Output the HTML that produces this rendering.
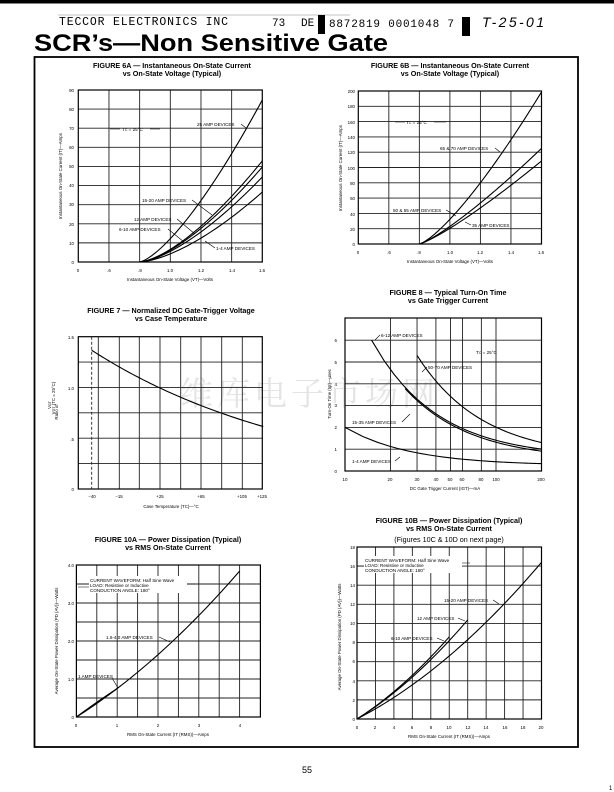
<!DOCTYPE html>
<html><head><meta charset="utf-8"><style>
html,body{margin:0;padding:0;background:#fff;}
svg{display:block;font-family:"Liberation Sans",Arial,sans-serif;}
.t{font-size:7.2px;font-weight:bold;text-anchor:middle;}
.s{font-size:4.6px;}
.k{font-size:4.4px;text-anchor:end;}
.m{font-size:4.4px;text-anchor:middle;}
.g{stroke:#222;stroke-width:0.9;fill:none;}
.b{stroke:#000;stroke-width:1.2;fill:none;}
.c{stroke:#000;stroke-width:1.1;fill:none;}
.l{stroke:#000;stroke-width:0.6;fill:none;}
</style></head><body>
<svg id="sv" width="614" height="792" viewBox="0 0 614 792" xmlns="http://www.w3.org/2000/svg">
<rect x="0" y="0" width="614" height="3.5" fill="#000"/>
<line x1="58" y1="15" x2="350" y2="15" stroke="#888" stroke-width="0.6"/>
<text x="59" y="25" font-family="Liberation Mono,monospace" font-size="11.5" textLength="169">TECCOR ELECTRONICS INC</text>
<text x="272" y="26" font-family="Liberation Mono,monospace" font-size="11">73</text>
<text x="301" y="26" font-family="Liberation Mono,monospace" font-size="11">DE</text>
<rect x="318" y="15" width="7" height="19" fill="#000"/>
<text x="329" y="27" font-family="Liberation Mono,monospace" font-size="11" textLength="125">8872819 0001048 7</text>
<rect x="462" y="17" width="8" height="19" fill="#000"/>
<text x="482" y="27" font-family="Liberation Sans,sans-serif" font-size="14" font-style="italic" textLength="62">T-25-01</text>
<text x="34" y="51" font-size="24" font-weight="bold" textLength="354" lengthAdjust="spacingAndGlyphs">SCR’s—Non Sensitive Gate</text>
<rect x="34.5" y="57" width="543.5" height="690" fill="none" stroke="#000" stroke-width="1.8"/>

<text x="180" y="405" font-family="Noto Serif CJK SC,serif" font-size="33" fill="#e4e4e4" textLength="255">维库电子市场网</text>

<!-- FIG 6A -->
<text class="t" x="172" y="68">FIGURE 6A — Instantaneous On-State Current</text>
<text class="t" x="172" y="76">vs On-State Voltage (Typical)</text>
<g id="g6a"></g>
<text class="k" x="74" y="92">90</text><text class="k" x="74" y="111">80</text><text class="k" x="74" y="130">70</text><text class="k" x="74" y="149">60</text><text class="k" x="74" y="168">50</text><text class="k" x="74" y="187">40</text><text class="k" x="74" y="206">30</text><text class="k" x="74" y="226">20</text><text class="k" x="74" y="245">10</text><text class="k" x="74" y="264">0</text>
<text class="m" x="78" y="272">0</text><text class="m" x="109" y="272">.6</text><text class="m" x="140" y="272">.8</text><text class="m" x="170" y="272">1.0</text><text class="m" x="201" y="272">1.2</text><text class="m" x="232" y="272">1.4</text><text class="m" x="262" y="272">1.6</text>
<text class="m" x="170" y="281">Instantaneous On-State Voltage (VT)—Volts</text>
<text class="m" transform="translate(62,176) rotate(-90)">Instantaneous On-State Current (IT)—Amps</text>
<text class="s" x="122" y="131">T<tspan font-size="3.5">C</tspan> = 25°C</text>
<text class="s" x="197" y="126">25 AMP DEVICES</text>
<text class="s" x="142" y="202">15-20 AMP DEVICES</text>
<text class="s" x="134" y="221">12 AMP DEVICES</text>
<text class="s" x="119" y="231">6-10 AMP DEVICES</text>
<text class="s" x="216" y="250">1-4 AMP DEVICES</text>
<path class="l" d="M110,129H120 M150,129H160 M241,124L246,128 M192,200L212,215 M177,219L195,234 M168,229L184,242 M215,248L205,241"/>

<!-- FIG 6B -->
<text class="t" x="450" y="68">FIGURE 6B — Instantaneous On-State Current</text>
<text class="t" x="450" y="76">vs On-State Voltage (Typical)</text>
<g id="g6b"></g>
<text class="k" x="355" y="93">200</text><text class="k" x="355" y="108">180</text><text class="k" x="355" y="124">160</text><text class="k" x="355" y="139">140</text><text class="k" x="355" y="154">120</text><text class="k" x="355" y="170">100</text><text class="k" x="355" y="185">80</text><text class="k" x="355" y="200">60</text><text class="k" x="355" y="216">40</text><text class="k" x="355" y="231">20</text><text class="k" x="355" y="246">0</text>
<text class="m" x="358" y="254">0</text><text class="m" x="389" y="254">.6</text><text class="m" x="419" y="254">.8</text><text class="m" x="450" y="254">1.0</text><text class="m" x="480" y="254">1.2</text><text class="m" x="511" y="254">1.4</text><text class="m" x="541" y="254">1.6</text>
<text class="m" x="450" y="263">Instantaneous On-State Voltage (VT)—Volts</text>
<text class="m" transform="translate(342,168) rotate(-90)">Instantaneous On-State Current (IT)—Amps</text>
<text class="s" x="406" y="124">T<tspan font-size="3.5">C</tspan> = 25°C</text>
<text class="s" x="440" y="150">65 &amp; 70 AMP DEVICES</text>
<text class="s" x="393" y="212">50 &amp; 55 AMP DEVICES</text>
<text class="s" x="472" y="227">35 AMP DEVICES</text>
<path class="l" d="M395,122H405 M434,122H446 M495,148L500,152 M446,210L456,216 M471,225L465,222"/>

<!-- FIG 7 -->
<text class="t" x="171" y="313">FIGURE 7 — Normalized DC Gate-Trigger Voltage</text>
<text class="t" x="171" y="321">vs Case Temperature</text>
<g id="g7"></g>
<text class="k" x="74" y="339">1.5</text><text class="k" x="74" y="390">1.0</text><text class="k" x="74" y="441">.5</text><text class="k" x="74" y="491">0</text>
<text class="m" x="92" y="498">−40</text><text class="m" x="119" y="498">−15</text><text class="m" x="160" y="498">+25</text><text class="m" x="201" y="498">+65</text><text class="m" x="242" y="498">+105</text><text class="m" x="262" y="498">+125</text>
<text class="m" x="171" y="508">Case Temperature (TC)—°C</text>
<text class="m" transform="translate(58,412) rotate(-90)">Ratio of</text>
<text class="m" transform="translate(51,405) rotate(-90)">V<tspan font-size="3.5">GT</tspan></text>
<text class="m" transform="translate(55,398) rotate(-90)">V<tspan font-size="3.5">GT</tspan> (TC = 25°C)</text>

<!-- FIG 8 -->
<text class="t" x="448" y="295">FIGURE 8 — Typical Turn-On Time</text>
<text class="t" x="448" y="303">vs Gate Trigger Current</text>
<g id="g8"></g>
<text class="k" x="337" y="342">6</text><text class="k" x="337" y="364">5</text><text class="k" x="337" y="386">4</text><text class="k" x="337" y="407">3</text><text class="k" x="337" y="429">2</text><text class="k" x="337" y="451">1</text><text class="k" x="337" y="473">0</text>
<text class="m" x="345" y="481">10</text><text class="m" x="390" y="481">20</text><text class="m" x="417" y="481">30</text><text class="m" x="436" y="481">40</text><text class="m" x="450" y="481">50</text><text class="m" x="462" y="481">60</text><text class="m" x="481" y="481">80</text><text class="m" x="496" y="481">100</text><text class="m" x="541" y="481">200</text>
<text class="m" x="445" y="490">DC Gate Trigger Current (IGT)—mA</text>
<text class="m" transform="translate(331,394) rotate(-90)">Turn-On Time (tgt)—μsec</text>
<text class="s" x="381" y="337">6-12 AMP DEVICES</text>
<text class="s" x="428" y="369">50-70 AMP DEVICES</text>
<text class="s" x="476" y="354">T<tspan font-size="3.5">C</tspan> = 25°C</text>
<text class="s" x="352" y="424">15-35 AMP DEVICES</text>
<text class="s" x="352" y="463">1-4 AMP DEVICES</text>
<path class="l" d="M380,335L375,340 M427,367L422,372 M402,422L410,414 M395,461L400,457"/>

<!-- FIG 10A -->
<text class="t" x="168" y="542">FIGURE 10A — Power Dissipation (Typical)</text>
<text class="t" x="168" y="550">vs RMS On-State Current</text>
<g id="g10a"></g>
<text class="k" x="74" y="567">4.0</text><text class="k" x="74" y="605">3.0</text><text class="k" x="74" y="643">2.0</text><text class="k" x="74" y="681">1.0</text><text class="k" x="74" y="719">0</text>
<text class="m" x="76" y="727">0</text><text class="m" x="117" y="727">1</text><text class="m" x="158" y="727">2</text><text class="m" x="199" y="727">3</text><text class="m" x="240" y="727">4</text>
<text class="m" x="168" y="736">RMS On-State Current (IT (RMS))—Amps</text>
<text class="m" transform="translate(58,641) rotate(-90)">Average On-State Power Dissipation (PD (AV))—Watts</text>
<rect x="89" y="576" width="98" height="17" fill="#fff"/>
<text class="s" x="90" y="582">CURRENT WAVEFORM: Half Sine Wave</text>
<text class="s" x="90" y="587">LOAD: Resistive or Inductive</text>
<text class="s" x="90" y="592">CONDUCTION ANGLE: 180°</text>
<path class="l" d="M78,587H89 M187,584H195"/>
<text class="s" x="106" y="639">1.6-4.0 AMP DEVICES</text>
<text class="s" x="78" y="678">1 AMP DEVICES</text>
<path class="l" d="M159,637L170,642 M112,678L118,688"/>

<!-- FIG 10B -->
<text class="t" x="449" y="523">FIGURE 10B — Power Dissipation (Typical)</text>
<text class="t" x="449" y="531">vs RMS On-State Current</text>
<text x="449" y="542" font-size="7.2" text-anchor="middle">(Figures 10C &amp; 10D on next page)</text>
<g id="g10b"></g>
<text class="k" x="355" y="549">18</text><text class="k" x="355" y="568">16</text><text class="k" x="355" y="587">14</text><text class="k" x="355" y="606">12</text><text class="k" x="355" y="625">10</text><text class="k" x="355" y="644">8</text><text class="k" x="355" y="663">6</text><text class="k" x="355" y="683">4</text><text class="k" x="355" y="702">2</text><text class="k" x="355" y="721">0</text>
<text class="m" x="357" y="729">0</text><text class="m" x="375" y="729">2</text><text class="m" x="394" y="729">4</text><text class="m" x="412" y="729">6</text><text class="m" x="431" y="729">8</text><text class="m" x="449" y="729">10</text><text class="m" x="468" y="729">12</text><text class="m" x="486" y="729">14</text><text class="m" x="505" y="729">16</text><text class="m" x="523" y="729">18</text><text class="m" x="541" y="729">20</text>
<text class="m" x="449" y="738">RMS On-State Current (IT (RMS))—Amps</text>
<text class="m" transform="translate(341,637) rotate(-90)">Average On-State Power Dissipation (PD (AV))—Watts</text>
<rect x="364" y="556" width="98" height="17" fill="#fff"/>
<text class="s" x="365" y="562">CURRENT WAVEFORM: Half Sine Wave</text>
<text class="s" x="365" y="567">LOAD: Resistive or Inductive</text>
<text class="s" x="365" y="572">CONDUCTION ANGLE: 180°</text>
<path class="l" d="M358,566H364 M462,563H470"/>
<text class="s" x="444" y="602">15-20 AMP DEVICES</text>
<text class="s" x="417" y="620">12 AMP DEVICES</text>
<text class="s" x="391" y="640">6-10 AMP DEVICES</text>
<path class="l" d="M493,600L499,604 M458,618L465,621 M437,638L444,641"/>

<text x="307" y="773" font-size="9" text-anchor="middle">55</text>
<text x="609" y="790" font-size="6">1</text>
</svg>
<script>
var NS="http://www.w3.org/2000/svg";
function add(id,tag,at){var e=document.createElementNS(NS,tag);for(var k in at)e.setAttribute(k,at[k]);document.getElementById(id).appendChild(e);return e;}
function grid(id,x0,x1,y0,y1,xs,ys){var d="";xs.forEach(function(x){d+="M"+x+","+y0+"V"+y1;});ys.forEach(function(y){d+="M"+x0+","+y+"H"+x1;});add(id,"path",{d:d,"class":"g"});add(id,"rect",{x:x0,y:y0,width:x1-x0,height:y1-y0,"class":"b"});}
function curve(id,f,a,b,n){var d="";for(var i=0;i<=n;i++){var t=a+(b-a)*i/n;var p=f(t);d+=(i?"L":"M")+p[0].toFixed(2)+","+p[1].toFixed(2);}add(id,"path",{d:d,"class":"c"});}
function rng(a,s,n){var r=[];for(var i=0;i<n;i++)r.push(a+s*i);return r;}
// 6A
grid("g6a",78.3,262.3,90,262,rng(78.3+30.67,30.67,5),rng(90+19.11,19.11,8));
[[84.8,1.4],[52.9,1.5],[49.7,1.5],[44.5,1.5],[36.6,1.55]].forEach(function(c){curve("g6a",function(u){return[139.6+u*122.7,262-c[0]*Math.pow(u,c[1])*1.911];},0,1,40);});
// 6B
grid("g6b",358.3,541.5,91,244,rng(358.3+30.53,30.53,5),rng(91+15.3,15.3,9));
[[198.7,1.31],[125,1.22],[108.5,1.2]].forEach(function(c){curve("g6b",function(u){return[419.4+u*122.1,244-c[0]*Math.pow(u,c[1])*0.765];},0,1,40);});
// 7
grid("g7",78.3,262.3,336.7,489,[98.3,119.3,139.3,160,180.7,201,221.7,242.3],rng(336.7+25.38,25.38,5));
add("g7","line",{x1:91.7,y1:336.7,x2:91.7,y2:489,stroke:"#222","stroke-width":0.9,"stroke-dasharray":"3,2"});
curve("g7",function(T){return[91.7+(T+40)*1.04,489-Math.exp(-0.00484*(T-25))*101.3];},-40,125,50);
// 8
function X8(I){return 345+Math.log10(I/10)*151;}
grid("g8",345,541.5,318,471,[20,30,40,50,60,80,100].map(X8),rng(471-21.8,-21.8,6));
[[0.6,81,15],[0.5,82,25],[0.6,141,30],[0.25,17.5,10]].forEach(function(c){curve("g8",function(I){return[X8(I),471-(c[0]+c[1]/I)*21.8];},c[2],200,60);});
// 10A
grid("g10a",76.4,260.4,565,717,rng(76.4+20.4,20.4,8),rng(565+19,19,7));
curve("g10a",function(a){return[76.4+a*40.8,717-(0.68*a+0.07*a*a)*38];},0,4,40);
curve("g10a",function(a){return[76.4+a*40.8,717-(0.8*a-0.05*a*a)*38];},0,1,20);
// 10B
grid("g10b",357,541.5,547,719,rng(357+18.45,18.45,9),rng(547+19.11,19.11,8));
[[0.5,0.016,20],[0.6,0.022,12],[0.62,0.024,10]].forEach(function(c){curve("g10b",function(a){return[357+a*9.225,719-(c[0]*a+c[1]*a*a)*9.555];},0,c[2],40);});
</script>
</body></html>
